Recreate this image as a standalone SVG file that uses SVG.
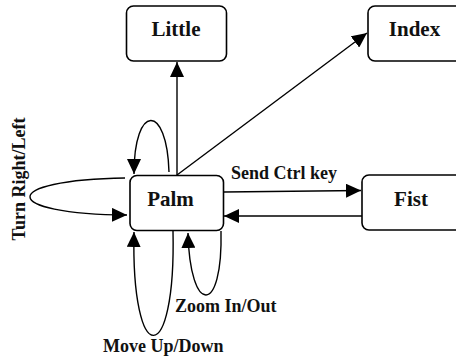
<svg xmlns="http://www.w3.org/2000/svg" width="456" height="359" viewBox="0 0 456 359">
<style>
.box{fill:#fff;stroke:#000;stroke-width:1.6}
.nt{font-family:"Liberation Serif","Times New Roman",serif;font-weight:bold;font-size:21px;text-anchor:middle;fill:#111}
.lt{font-family:"Liberation Serif","Times New Roman",serif;font-weight:bold;font-size:18px;fill:#111}
.c{fill:none;stroke:#000;stroke-width:1.4}
</style>
<defs>
<marker id="ah" markerUnits="userSpaceOnUse" markerWidth="16" markerHeight="14" refX="15" refY="7" orient="auto">
<path d="M0,0 L15,7 L0,14 Z" fill="#000"/>
</marker>
</defs>
<rect width="456" height="359" fill="#fff"/>
<g id="connectors">
<path class="c" d="M177,175 L177,62" marker-end="url(#ah)"/>
<path class="c" d="M177,175 L367,33" marker-end="url(#ah)"/>
<path class="c" d="M224,192 L361,190.5" marker-end="url(#ah)"/>
<path class="c" d="M362,216 L224,216" marker-end="url(#ah)"/>
<path class="c" d="M169,172 C167,103 134,103 134,174" marker-end="url(#ah)"/>
<path class="c" d="M125,178 C-2,180 -2,214 127,215" marker-end="url(#ah)"/>
<path class="c" d="M173,231 C176,370 131,370 134,232" marker-end="url(#ah)"/>
<path class="c" d="M221,231 C223,316 190,316 188,233" marker-end="url(#ah)"/>
<text class="lt" x="231" y="179">Send Ctrl key</text>
<text class="lt" x="175" y="312">Zoom In/Out</text>
<text class="lt" x="103" y="352">Move Up/Down</text>
<text class="lt" text-anchor="middle" transform="translate(24.5,179) rotate(-90)">Turn Right/Left</text>
</g>
<g id="little">
<rect class="box" x="126.5" y="6" width="100" height="55" rx="7"/>
<text class="nt" x="176" y="36">Little</text>
</g>
<g id="index">
<rect class="box" x="368" y="6" width="100" height="55" rx="7"/>
<text class="nt" x="414.5" y="36">Index</text>
</g>
<g id="palm">
<rect class="box" x="130" y="175.5" width="93.5" height="55" rx="7"/>
<text class="nt" x="170.5" y="206">Palm</text>
</g>
<g id="fist">
<rect class="box" x="362" y="175" width="100" height="55" rx="7"/>
<text class="nt" x="411" y="206">Fist</text>
</g>
</svg>
